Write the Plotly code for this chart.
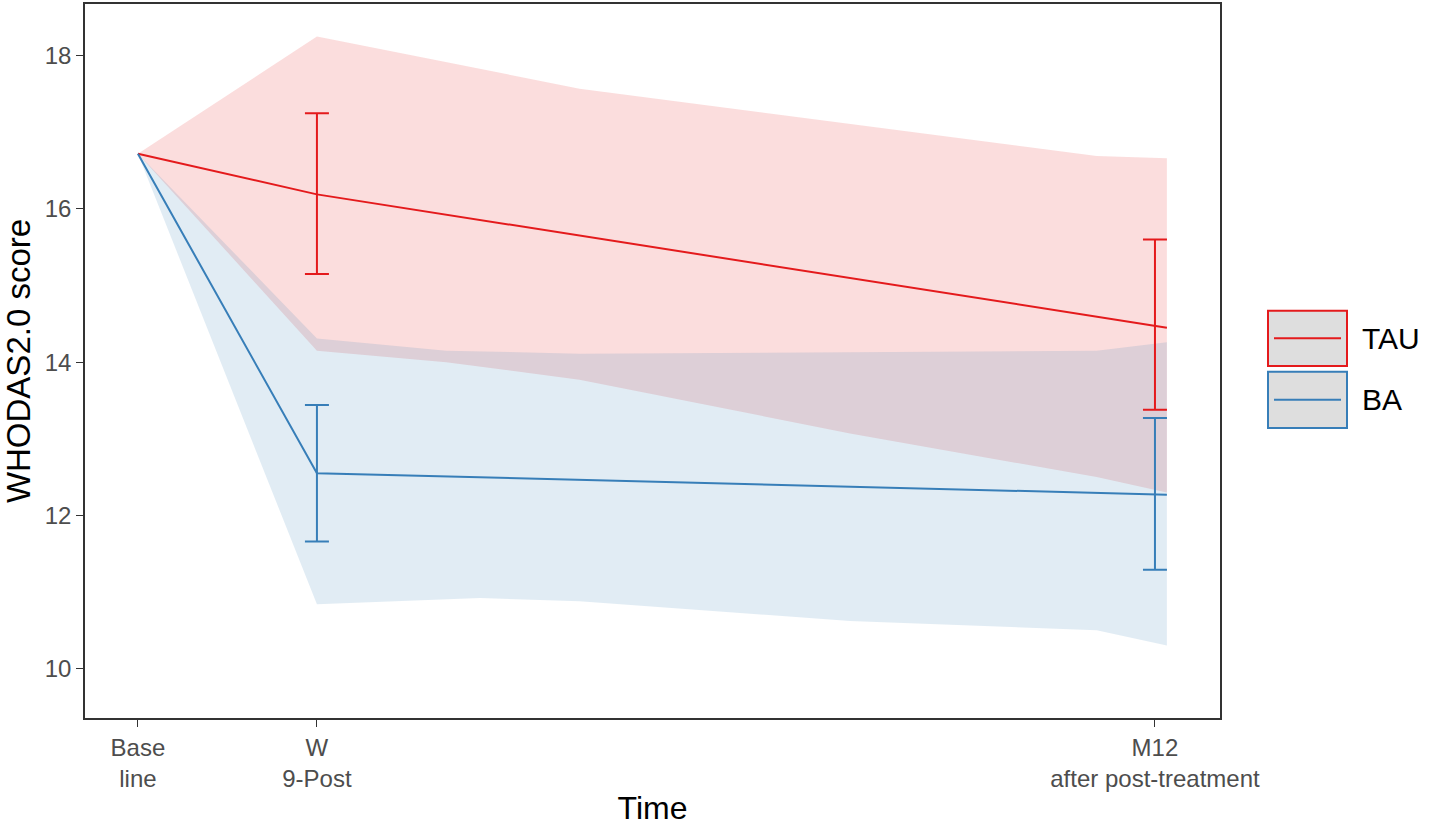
import plotly.graph_objects as go

# ---- data ----
tick_pos = [0, 9, 51.13]
tick_text = ["Base<br>line", "W<br>9-Post", "M12<br>after post-treatment"]

groups = ["TAU", "BA"]
colors = {"TAU": "#E41A1C", "BA": "#377EB8"}
fills = {"TAU": "rgba(228,26,28,0.15)", "BA": "rgba(55,126,184,0.15)"}

line_x = [0, 9, 51.73]
tau_line = [16.72, 16.19, 14.45]
ba_line = [16.72, 12.55, 12.27]

err_x = [9, 51.13]
tau_mean = [16.19, 14.47]
tau_lo = [15.15, 13.38]
tau_hi = [17.25, 15.60]
ba_mean = [12.55, 12.28]
ba_lo = [11.66, 11.29]
ba_hi = [13.44, 13.27]

tau_up_x = [0, 9, 22.2, 35.8, 48.2, 51.73]
tau_up_y = [16.72, 18.25, 17.57, 17.11, 16.69, 16.66]
tau_lw_x = [0, 9, 15.5, 22.2, 35.8, 48.2, 51.73]
tau_lw_y = [16.72, 14.15, 14.00, 13.77, 13.07, 12.50, 12.30]

ba_up_x = [0, 9, 15.5, 22.2, 35.8, 48.2, 51.73]
ba_up_y = [16.72, 14.31, 14.15, 14.11, 14.13, 14.15, 14.26]
ba_lw_x = [0, 9, 17.2, 22.2, 35.8, 48.2, 51.73]
ba_lw_y = [16.72, 10.84, 10.92, 10.88, 10.62, 10.50, 10.30]

fig = go.Figure()

def ribbon(ux, uy, lx, ly, color):
    fig.add_trace(go.Scatter(
        x=ux + lx[::-1], y=uy + ly[::-1], fill="toself", fillcolor=color,
        line=dict(width=0), mode="lines", showlegend=False, hoverinfo="skip"))

ribbon(tau_up_x, tau_up_y, tau_lw_x, tau_lw_y, fills["TAU"])
ribbon(ba_up_x, ba_up_y, ba_lw_x, ba_lw_y, fills["BA"])

for g, ly, m, lo, hi in [("TAU", tau_line, tau_mean, tau_lo, tau_hi),
                         ("BA", ba_line, ba_mean, ba_lo, ba_hi)]:
    fig.add_trace(go.Scatter(x=line_x, y=ly, mode="lines",
                             line=dict(color=colors[g], width=2), showlegend=False))
    fig.add_trace(go.Scatter(
        x=err_x, y=m, mode="markers", marker=dict(size=0.1, color=colors[g], opacity=0),
        error_y=dict(type="data", symmetric=False,
                     array=[h - v for h, v in zip(hi, m)],
                     arrayminus=[v - l for l, v in zip(lo, m)],
                     color=colors[g], thickness=2, width=12),
        showlegend=False))

# layout geometry (pixels)
W, H = 1432, 826
L, R, T, B = 85, 1220, 4, 718
pw, ph = R - L, B - T

def px(x):
    return (x - L) / pw

def py(y):
    return (B - y) / ph

fig.update_layout(
    width=W, height=H,
    margin=dict(l=L, r=W - R, t=T, b=H - B, autoexpand=False),
    paper_bgcolor="white", plot_bgcolor="white",
    font=dict(family="Liberation Sans, Arial", color="black"),
    showlegend=False,
)
fig.update_xaxes(
    range=[-2.66, 54.4], tickvals=tick_pos, ticktext=tick_text,
    showgrid=False, zeroline=False, showline=True, mirror=True,
    linecolor="#333333", linewidth=1.5, ticks="outside", ticklen=7,
    tickcolor="#333333", tickwidth=1.2,
    tickfont=dict(size=24, color="#4D4D4D"),
    title=dict(text="Time", font=dict(size=32, color="black"), standoff=6),
)
fig.update_yaxes(
    range=[9.355, 18.675], tickvals=[10, 12, 14, 16, 18],
    showgrid=False, zeroline=False, showline=True, mirror=True,
    linecolor="#333333", linewidth=1.5, ticks="outside", ticklen=7,
    tickcolor="#333333", tickwidth=1.2,
    tickfont=dict(size=24, color="#4D4D4D"),
    title=dict(text="WHODAS2.0 score", font=dict(size=33, color="black"), standoff=4),
)

# manual legend (ggplot-style keys)
legend_rows = [("TAU", 310.7, 366.0), ("BA", 371.7, 428.0)]
for g, y0, y1 in legend_rows:
    fig.add_shape(type="rect", xref="paper", yref="paper",
                  x0=px(1268), x1=px(1347), y0=py(y1), y1=py(y0),
                  fillcolor="#DEDEDE", line=dict(color=colors[g], width=2))
    yc = (y0 + y1) / 2
    fig.add_shape(type="line", xref="paper", yref="paper",
                  x0=px(1274), x1=px(1341), y0=py(yc), y1=py(yc),
                  line=dict(color=colors[g], width=2))
    fig.add_annotation(xref="paper", yref="paper", x=px(1360), y=py(yc),
                       text=g, showarrow=False, xanchor="left", yanchor="middle",
                       font=dict(size=30, color="black"))

fig.write_html("out.html", config={"displayModeBar": False},
               post_script="document.body.style.margin='0';")
